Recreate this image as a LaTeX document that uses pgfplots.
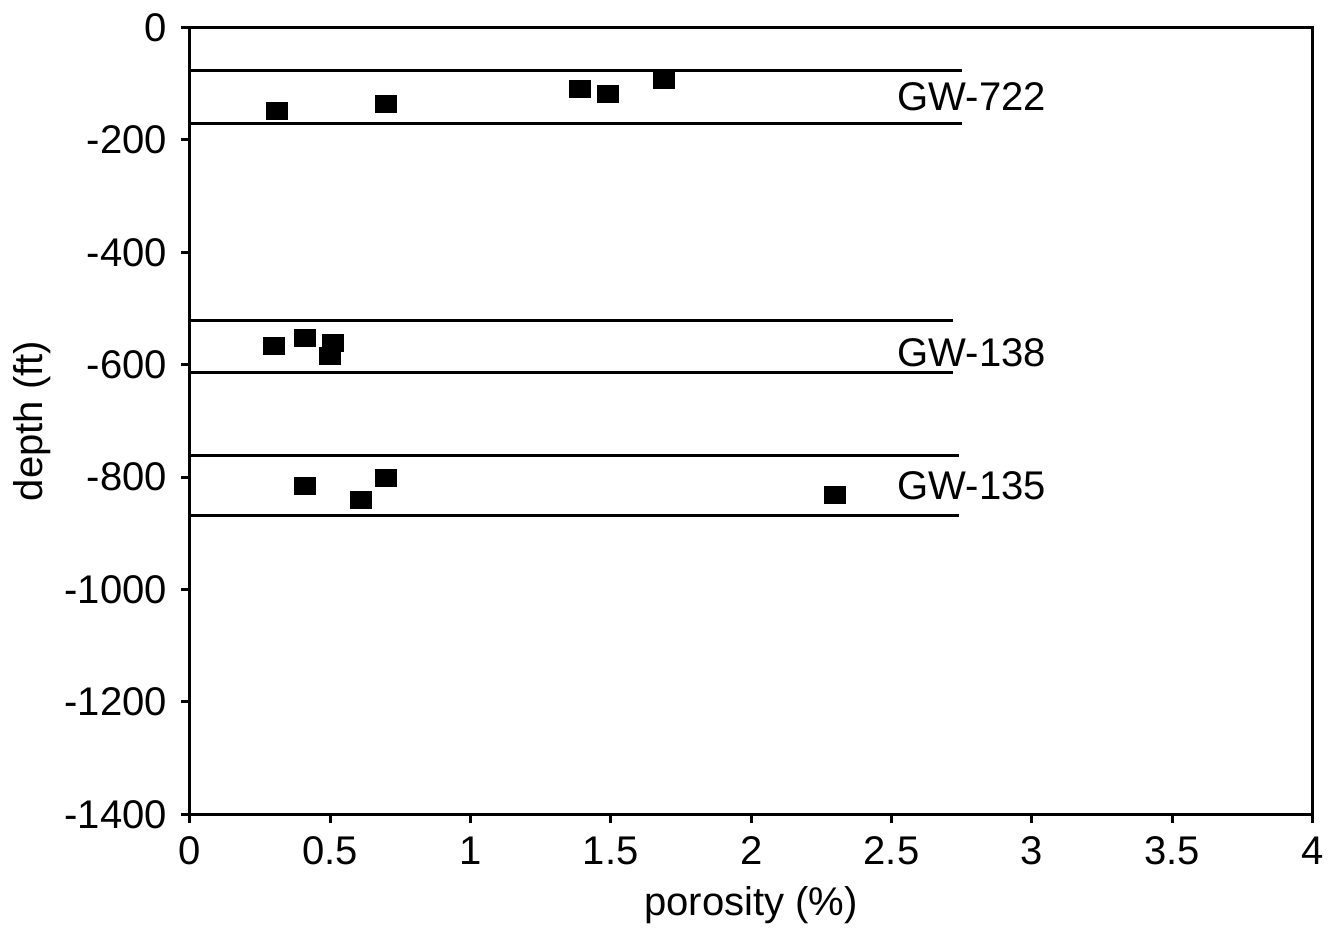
\documentclass[border=0pt]{standalone}
\usepackage{fontspec}
\setmainfont{Liberation Sans}
\usepackage{pgfplots}
\pgfplotsset{compat=1.18}

\begin{document}
\fontsize{12}{14}\selectfont
\begin{tikzpicture}
\begin{axis}[
  scale only axis,
  width=11.83cm, height=8.29cm,
  xmin=0, xmax=4, ymin=-1400, ymax=0,
  xtick={0,0.5,1,1.5,2,2.5,3,3.5,4},
  xticklabels={0,0.5,1,1.5,2,2.5,3,3.5,4},
  ytick={-1400,-1200,-1000,-800,-600,-400,-200,0},
  yticklabels={-1400,-1200,-1000,-800,-600,-400,-200,0},
  xtick pos=bottom, ytick pos=left, tick align=outside,
  major tick length=2.6pt,
  axis line style={black, line width=0.9pt},
  tick style={black, line width=0.9pt},
  ticklabel style={font=\fontsize{12}{14}\selectfont},
  label style={font=\fontsize{12}{14}\selectfont},
  xlabel={porosity (\%)}, ylabel={depth (ft)},
  xlabel style={yshift=2pt},
  ylabel style={yshift=-4pt},
  clip=false,
]
% zone boundaries
\addplot[black, line width=0.9pt] coordinates {(0,-76) (2.75,-76)};
\addplot[black, line width=0.9pt] coordinates {(0,-170) (2.75,-170)};
\addplot[black, line width=0.9pt] coordinates {(0,-521) (2.72,-521)};
\addplot[black, line width=0.9pt] coordinates {(0,-613) (2.72,-613)};
\addplot[black, line width=0.9pt] coordinates {(0,-762) (2.74,-762)};
\addplot[black, line width=0.9pt] coordinates {(0,-868) (2.74,-868)};
% samples
\addplot[only marks, mark=square*, mark size=2.5pt, mark options={xscale=1.25}]
  coordinates {
    (0.31,-148) (0.70,-136) (1.39,-110) (1.49,-118) (1.69,-94)
    (0.30,-567) (0.41,-553) (0.51,-562) (0.50,-585)
    (0.41,-815) (0.61,-840) (0.70,-801) (2.30,-831)
  };
\node[anchor=east] at (axis cs:3.1,-124) {GW-722};
\node[anchor=east] at (axis cs:3.1,-578) {GW-138};
\node[anchor=east] at (axis cs:3.1,-815) {GW-135};
\end{axis}
\end{tikzpicture}
\end{document}
